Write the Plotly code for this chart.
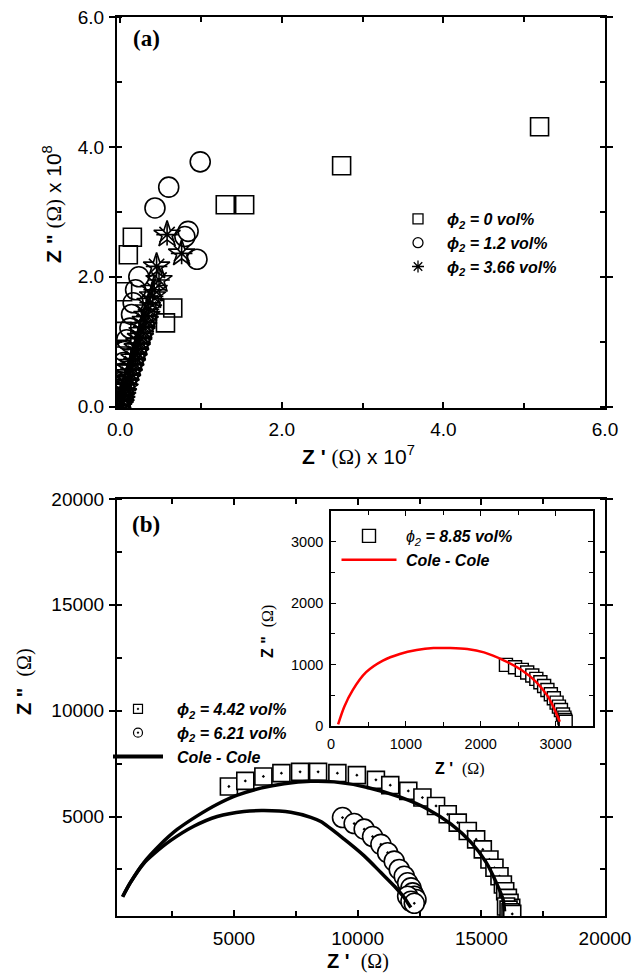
import plotly.graph_objects as go

W, H = 644, 978

# ---------------- Panel (a): Z' (x1e7 ohm), Z'' (x1e8 ohm) ----------------
a_sq_x = [5.19, 2.74, 1.54, 1.30, 0.15, 0.10, 0.03, 0.65, 0.56, 0.02, 0.02, 0.01, 0.01, 0.00, 0.00]
a_sq_y = [4.31, 3.71, 3.11, 3.11, 2.61, 2.34, 1.77, 1.52, 1.29, 1.16, 0.78, 0.52, 0.32, 0.16, 0.05]

a_ci_x = [0.99, 0.60, 0.43, 0.84, 0.80, 0.95, 0.23, 0.19, 0.16, 0.14, 0.12, 0.08, 0.05, 0.04, 0.03, 0.02, 0.01, 0.01, 0.00]
a_ci_y = [3.77, 3.38, 3.06, 2.70, 2.62, 2.27, 2.00, 1.80, 1.60, 1.42, 1.21, 1.03, 0.85, 0.68, 0.52, 0.38, 0.25, 0.13, 0.04]

a_st_x = [0.58, 0.76, 0.45, 0.48, 0.42, 0.40, 0.37, 0.35, 0.33, 0.31, 0.29, 0.27, 0.25, 0.23,
          0.21, 0.19, 0.17, 0.15, 0.13, 0.11, 0.09, 0.07, 0.06, 0.04, 0.03, 0.02, 0.01, 0.00]
a_st_y = [2.65, 2.36, 2.16, 1.95, 1.80, 1.70, 1.60, 1.50, 1.40, 1.32, 1.23, 1.15, 1.06, 0.98,
          0.90, 0.82, 0.74, 0.66, 0.58, 0.50, 0.42, 0.35, 0.28, 0.21, 0.15, 0.09, 0.04, 0.01]

a_names = ["φ2 = 0 vol%", "φ2 = 1.2 vol%", "φ2 = 3.66 vol%"]

# ---------------- Panel (b): ohm ----------------
b_sq_x = [4794, 5457, 6188, 6917, 7672, 8400, 9180, 9968, 10738, 11318, 12047, 12618, 13169, 13642,
          14047, 14453, 14790, 15060, 15328, 15531, 15734, 15872, 15965, 16074, 16141, 16209,
          16000, 16100, 16180, 16250]
b_sq_y = [6418, 6683, 6892, 7048, 7110, 7110, 7049, 6955, 6731, 6481, 6210, 5896, 5499, 5105,
          4712, 4313, 3920, 3446, 2972, 2579, 2180, 1787, 1470, 1157, 920, 683,
          750, 600, 480, 400]

b_ci_x = [9388, 9858, 10264, 10603, 10940, 11212, 11479, 11682, 11884, 12021, 12155, 12223, 12290,
          12358, 12021, 12155, 12290]
b_ci_y = [4950, 4667, 4403, 4055, 3684, 3290, 2892, 2498, 2180, 1868, 1631, 1394, 1233,
          1076, 1233, 995, 900]

cc1_x = [498, 810, 1349, 2026, 2703, 3513, 4323, 5134, 6078, 7022, 8104, 9048, 10401, 11751,
         12833, 13777, 14587, 15195, 15600, 15872, 15940]
cc1_y = [1212, 1873, 2816, 3679, 4387, 5030, 5580, 6010, 6340, 6550, 6665, 6636, 6373, 5899,
         5347, 4639, 3776, 2833, 1889, 1101, 520]

cc2_x = [498, 810, 1349, 1754, 2431, 3375, 4323, 5401, 6212, 7293, 8104, 8509, 9453, 10264,
         10940, 11479, 11884, 12021, 12150]
cc2_y = [1212, 1873, 2780, 3230, 3860, 4540, 5000, 5240, 5280, 5200, 4960, 4760, 3931, 3140,
         2353, 1717, 1167, 930, 700]

b_names = ["φ2 = 4.42 vol%", "φ2 = 6.21 vol%", "Cole - Cole"]

# ---------------- Inset (phi2 = 8.85 vol%) ----------------
in_x = [2337, 2459, 2549, 2621, 2689, 2743, 2797, 2847, 2891, 2937, 2977, 3014, 3045, 3072,
        3099, 3118, 3126, 3135]
in_y = [995, 957, 913, 870, 821, 767, 712, 652, 587, 517, 452, 380, 315, 261,
        186, 137, 98, 70]
incc_x = [95, 176, 288, 469, 693, 919, 1144, 1369, 1594, 1820, 2044, 2314, 2540, 2743, 2901, 2990, 3057]
incc_y = [27, 311, 581, 876, 1065, 1173, 1237, 1269, 1269, 1253, 1198, 1065, 915, 715, 473, 258, 69]

FONT = "Liberation Sans"
SERIF = "Liberation Serif"
NB = "\u00a0"


def phi_label(name, bold_phi=True):
    rest = name[2:]
    if bold_phi:
        return "<b><i>ϕ<sub>2</sub>" + rest + "</i></b>"
    return "<i>ϕ<sub>2</sub></i><b><i>" + rest + "</i></b>"


fig = go.Figure()

# Panel (a) data
fig.add_trace(go.Scatter(x=a_sq_x, y=a_sq_y, mode="markers", xaxis="x", yaxis="y", showlegend=False,
                         marker=dict(symbol="square-open", size=18, color="black", line=dict(width=1.6))))
fig.add_trace(go.Scatter(x=a_ci_x, y=a_ci_y, mode="markers", xaxis="x", yaxis="y", showlegend=False,
                         marker=dict(symbol="circle-open", size=20, color="black", line=dict(width=1.6))))
fig.add_trace(go.Scatter(x=a_st_x, y=a_st_y, mode="markers", xaxis="x", yaxis="y", showlegend=False,
                         marker=dict(symbol="star-open", size=20, color="black", line=dict(width=1.6))))
fig.add_trace(go.Scatter(x=a_st_x, y=a_st_y, mode="markers", xaxis="x", yaxis="y", showlegend=False,
                         marker=dict(symbol="asterisk-open", size=18, color="black", line=dict(width=1.6))))
for sym, nm in zip(["square-open", "circle-open", "asterisk-open"], a_names):
    fig.add_trace(go.Scatter(x=[None], y=[None], mode="markers", xaxis="x", yaxis="y", legend="legend",
                             name=NB * 2 + phi_label(nm),
                             marker=dict(symbol=sym, size=10, color="black", line=dict(width=1.3))))

# Panel (b) data
fig.add_trace(go.Scatter(x=b_sq_x, y=b_sq_y, mode="markers", xaxis="x2", yaxis="y2", showlegend=False,
                         marker=dict(symbol="square-dot", size=17, color="white",
                                     line=dict(width=1.6, color="black"))))
fig.add_trace(go.Scatter(x=b_ci_x, y=b_ci_y, mode="markers", xaxis="x2", yaxis="y2", showlegend=False,
                         marker=dict(symbol="circle-dot", size=20, color="white",
                                     line=dict(width=1.6, color="black"))))
fig.add_trace(go.Scatter(x=cc1_x, y=cc1_y, mode="lines", xaxis="x2", yaxis="y2", showlegend=False,
                         line=dict(color="black", width=3.5, shape="spline", smoothing=0.8)))
fig.add_trace(go.Scatter(x=cc2_x, y=cc2_y, mode="lines", xaxis="x2", yaxis="y2", showlegend=False,
                         line=dict(color="black", width=3.5, shape="spline", smoothing=0.8)))
fig.add_trace(go.Scatter(x=[None], y=[None], mode="markers", xaxis="x2", yaxis="y2", legend="legend2",
                         name=NB * 2 + phi_label(b_names[0]),
                         marker=dict(symbol="square-dot", size=9, color="white", line=dict(width=1.2, color="black"))))
fig.add_trace(go.Scatter(x=[None], y=[None], mode="markers", xaxis="x2", yaxis="y2", legend="legend2",
                         name=NB * 2 + phi_label(b_names[1]),
                         marker=dict(symbol="circle-dot", size=9, color="white", line=dict(width=1.2, color="black"))))
fig.add_trace(go.Scatter(x=[None], y=[None], mode="lines", xaxis="x2", yaxis="y2", legend="legend2",
                         name=NB * 2 + "<b><i>" + b_names[2] + "</i></b>",
                         line=dict(color="black", width=4)))

# Inset data
fig.add_trace(go.Scatter(x=in_x, y=in_y, mode="markers", xaxis="x3", yaxis="y3", legend="legend3",
                         name=NB + phi_label("φ2 = 8.85 vol%", bold_phi=False),
                         marker=dict(symbol="square", size=13, color="white", line=dict(width=1.4, color="black"))))
fig.add_trace(go.Scatter(x=incc_x, y=incc_y, mode="lines", xaxis="x3", yaxis="y3", legend="legend3",
                         name=NB + "<b><i>Cole - Cole</i></b>",
                         line=dict(color="red", width=2.5, shape="spline", smoothing=0.8)))

tickfont = dict(family=FONT, size=19, color="black")
common = dict(showline=True, linewidth=2, linecolor="black", showgrid=False, zeroline=False,
              tickcolor="black", tickwidth=1.5, automargin=False)
common_in = dict(showline=True, linewidth=1.6, linecolor="black", showgrid=False, zeroline=False,
                 tickcolor="black", tickwidth=1.2, automargin=False)

fig.update_layout(
    width=W, height=H, margin=dict(l=0, r=0, t=0, b=0, autoexpand=False),
    plot_bgcolor="white", paper_bgcolor="white",
    font=dict(family=FONT, color="black"),
    xaxis=dict(domain=[117 / W, 605 / W], range=[-0.04, 6.0], anchor="y", dtick=2, tick0=0,
               tickformat=".1f", ticks="inside", ticklen=6, mirror="ticks", tickfont=tickfont,
               ticklabelstandoff=3,
               minor=dict(dtick=1, ticks="inside", ticklen=5, tickwidth=1.5, tickcolor="black"), **common),
    yaxis=dict(domain=[1 - 408 / H, 1 - 17 / H], range=[-0.02, 6.0], anchor="x", dtick=2, tick0=0,
               tickformat=".1f", ticks="outside", ticklen=6, mirror="ticks", tickfont=tickfont,
               ticklabelstandoff=1,
               minor=dict(dtick=1, ticks="inside", ticklen=5, tickwidth=1.5, tickcolor="black"), **common),
    xaxis2=dict(domain=[117 / W, 605 / W], range=[270, 20000], anchor="y2", dtick=5000, tick0=0,
                tickformat="d", ticks="inside", ticklen=6, mirror="ticks", tickfont=tickfont,
                ticklabelstandoff=4,
                minor=dict(dtick=2500, ticks="inside", ticklen=5, tickwidth=1.5, tickcolor="black"), **common),
    yaxis2=dict(domain=[1 - 916 / H, 1 - 499 / H], range=[300, 20000], anchor="x2", dtick=5000, tick0=0,
                tickformat="d", ticks="outside", ticklen=6, mirror="ticks", tickfont=tickfont,
                ticklabelstandoff=1,
                minor=dict(dtick=2500, ticks="inside", ticklen=5, tickwidth=1.5, tickcolor="black"), **common),
    xaxis3=dict(domain=[331 / W, 593 / W], range=[0, 3500], anchor="y3", dtick=1000, tick0=0,
                tickformat="d", ticks="inside", ticklen=5, mirror="ticks", ticklabelstandoff=4,
                tickfont=dict(family=FONT, size=14.5, color="black"),
                minor=dict(dtick=500, ticks="inside", ticklen=4, tickwidth=1.2, tickcolor="black"),
                **common_in),
    yaxis3=dict(domain=[1 - 726 / H, 1 - 511 / H], range=[0, 3500], anchor="x3", dtick=1000, tick0=0,
                tickformat="d", ticks="inside", ticklen=5, mirror="ticks", ticklabelstandoff=3,
                tickfont=dict(family=FONT, size=14.5, color="black"),
                minor=dict(dtick=500, ticks="inside", ticklen=4, tickwidth=1.2, tickcolor="black"),
                **common_in),
    legend=dict(x=398 / W, y=1 - 202 / H, xanchor="left", yanchor="top", bgcolor="rgba(0,0,0,0)",
                font=dict(family=FONT, size=16, color="black"), itemsizing="trace", tracegroupgap=0),
    legend2=dict(x=108 / W, y=1 - 692 / H, xanchor="left", yanchor="top", bgcolor="rgba(0,0,0,0)",
                 font=dict(family=FONT, size=16, color="black"), itemsizing="trace", itemwidth=50),
    legend3=dict(x=336.5 / W, y=1 - 519 / H, xanchor="left", yanchor="top", bgcolor="rgba(0,0,0,0)",
                 font=dict(family=FONT, size=16, color="black"), itemsizing="trace", itemwidth=55),
)

ann = [
    dict(text="<b>(a)</b>", x=146 / W, y=1 - 39 / H, font=dict(family=SERIF, size=23)),
    dict(text="<b>(b)</b>", x=146 / W, y=1 - 524 / H, font=dict(family=SERIF, size=23)),
    dict(text="<b>Z '</b> <span style='font-family:Liberation Serif'>(Ω)</span> x 10<sup>7</sup>",
         x=358 / W, y=1 - 455 / H, font=dict(family=FONT, size=21)),
    dict(text="<b>Z \"</b> <span style='font-family:Liberation Serif'>(Ω)</span> x 10<sup>8</sup>",
         x=52 / W, y=1 - 204 / H, textangle=-90, font=dict(family=FONT, size=21)),
    dict(text="<b>Z \"</b>  <span style='font-family:Liberation Serif'>(Ω)</span>",
         x=24 / W, y=1 - 682 / H, textangle=-90, font=dict(family=FONT, size=20)),
    dict(text="<b>Z '</b>  <span style='font-family:Liberation Serif'>(Ω)</span>",
         x=358 / W, y=1 - 961 / H, font=dict(family=FONT, size=20)),
    dict(text="<b>Z \"</b>  <span style='font-family:Liberation Serif'>(Ω)</span>",
         x=268 / W, y=1 - 632 / H, textangle=-90, font=dict(family=FONT, size=16)),
    dict(text="<b>Z '</b>  <span style='font-family:Liberation Serif'>(Ω)</span>",
         x=459 / W, y=1 - 769 / H, font=dict(family=FONT, size=16)),
]
for a in ann:
    a.update(xref="paper", yref="paper", showarrow=False, xanchor="center", yanchor="middle")
    a["font"]["color"] = "black"
fig.update_layout(annotations=ann)

fig.write_html("out.html")
